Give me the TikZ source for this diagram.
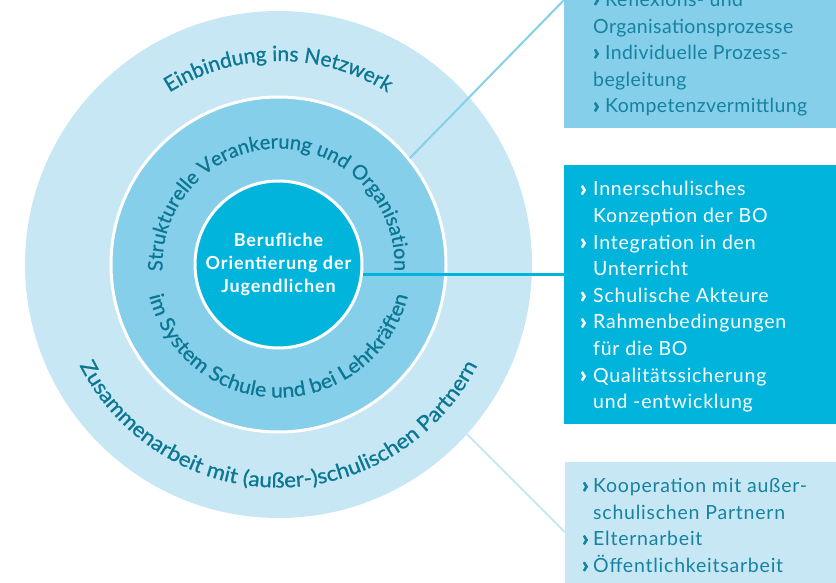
\documentclass[tikz,border=0pt]{standalone}
\usepackage{fontspec}
\setmainfont{Lato}
\newfontfamily\ringfam{Lato}[FakeBold=0.8]
\newfontfamily\ringfamwide{Lato}[FakeBold=0.8, FakeStretch=1.07]
\newfontfamily\listfam{Lato}[LetterSpace=4]
\newfontfamily\toplistfam{Lato}[LetterSpace=2]
\newfontfamily\corefam{Lato}[LetterSpace=5]
\newfontfamily\bulletfam{Lato}[FakeBold=3]
\usetikzlibrary{decorations.text}

\definecolor{paleblue}{HTML}{C8E7F5}
\definecolor{skyblue}{HTML}{86CFEB}
\definecolor{cyanblue}{HTML}{00B4DC}
\definecolor{ringink}{HTML}{0A7793}
\definecolor{listink}{HTML}{1583A0}

\newcommand{\bul}{{\bulletfam\fontsize{22}{20}\selectfont\bfseries ›}}

\tikzset{
  panel/.style={rectangle, inner sep=0pt, draw=none, anchor=north west},
  ring/.style={circle, inner sep=0pt},
  listtext/.style={inner sep=0pt, anchor=base west, font=\listfam\fontsize{19.5}{26.6}\selectfont},
  ringlabel/.style={decorate, decoration={text along path, text align=center,
      text color=ringink, text={#1}}},
  link/.style={line width=#1},
}

\begin{document}
\begin{tikzpicture}[x=1pt,y=1pt]
\useasboundingbox (0,0) rectangle (836,-583);
\clip (0,0) rectangle (836,-583);

% concentric rings
\node[ring, fill=paleblue, minimum size=507pt] (outer) at (278.5,-264.5) {};
\node[ring, fill=skyblue, draw=white, line width=3pt, minimum size=335pt] (mid) at (outer.center) {};
\node[ring, fill=cyanblue, draw=white, line width=3pt, minimum size=167pt,
      text=white, font=\corefam\bfseries\fontsize{18}{23}\selectfont] (core) at (outer.center)
      {\raisebox{-3pt}{\begin{tabular}{@{}c@{}}Berufliche\\Orientierung der\\Jugendlichen\end{tabular}}};

% curved ring labels: upper arcs run clockwise, lower arcs counter-clockwise
\path[ringlabel={|\ringfam\fontsize{21}{24}\selectfont|Einbindung ins Netzwerk}]
  ([shift={(outer.center)}]180:203.5) arc[start angle=180, end angle=0, radius=203.5];
\path[ringlabel={|\ringfamwide\fontsize{21}{24}\selectfont|Zusammenarbeit mit (außer-)schulischen Partnern}]
  ([shift={(outer.center)}]180:223) arc[start angle=180, end angle=360, radius=223];
\path[ringlabel={|\ringfam\fontsize{20}{24}\selectfont|Strukturelle Verankerung und Organisation}]
  ([shift={(outer.center)}]186:116) arc[start angle=186, end angle=-6, radius=116];
\path[ringlabel={|\ringfamwide\fontsize{20}{24}\selectfont|im System Schule und bei Lehrkräften}]
  ([shift={(outer.center)}]180:133) arc[start angle=180, end angle=360, radius=133];

% side panels
\node[panel, fill=skyblue, minimum width=272pt, minimum height=128pt] (topbox) at (564,0) {};
\node[panel, fill=cyanblue, minimum width=272pt, minimum height=259pt] (midbox) at (564,-165) {};
\node[panel, fill=paleblue, minimum width=271pt, minimum height=140pt] (botbox) at (565,-462) {};

% connectors
\draw[link=2pt, skyblue] (mid.39.3) -- (topbox.north west);
\draw[link=3pt, cyanblue] (core.-7.8) -- (core.-7.8 -| midbox.west);
\draw[link=2pt, paleblue] (outer.-42) -- (botbox.west);

% panel texts
\node[listtext, text=listink, font=\toplistfam\fontsize{19.5}{26.6}\selectfont] (toplist) at (593,-6.5) {%
  \begin{tabular}[t]{@{}l@{}}
  \makebox[12pt][l]{\bul}Reflexions- und\\
  Organisationsprozesse\\
  \makebox[12pt][l]{\bul}Individuelle Prozess-\\
  begleitung\\
  \makebox[12pt][l]{\bul}Kompetenzvermittlung
  \end{tabular}};
\node[listtext, text=white] (midlist) at (580,-196) {%
  \begin{tabular}[t]{@{}l@{}l@{}}
  \makebox[13pt][l]{\bul} & Innerschulisches\\
   & Konzeption der BO\\
  \makebox[13pt][l]{\bul} & Integration in den\\
   & Unterricht\\
  \makebox[13pt][l]{\bul} & Schulische Akteure\\
  \makebox[13pt][l]{\bul} & Rahmenbedingungen\\
   & für die BO\\
  \makebox[13pt][l]{\bul} & Qualitätssicherung\\
   & und -entwicklung
  \end{tabular}};
\node[listtext, text=listink] (botlist) at (582,-492.7) {%
  \begin{tabular}[t]{@{}l@{}l@{}}
  \makebox[11pt][l]{\bul} & Kooperation mit außer-\\
   & schulischen Partnern\\
  \makebox[11pt][l]{\bul} & Elternarbeit\\
  \makebox[11pt][l]{\bul} & Öffentlichkeitsarbeit
  \end{tabular}};
\end{tikzpicture}
\end{document}
